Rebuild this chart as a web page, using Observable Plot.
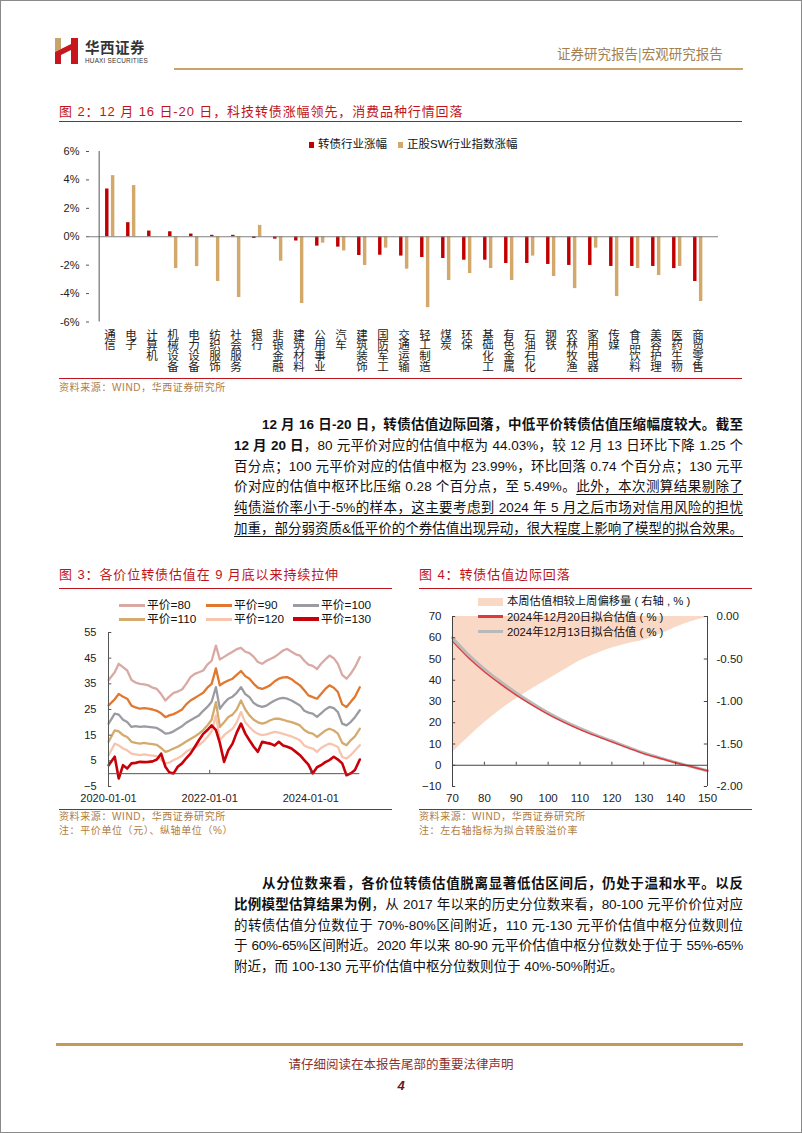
<!DOCTYPE html>
<html><head><meta charset="utf-8">
<script src="https://cdn.jsdelivr.net/npm/d3@7"></script>
<script src="https://cdn.jsdelivr.net/npm/@observablehq/plot@0.6"></script>
<style>
body{margin:0;background:#fff;}
#page{position:relative;width:800px;height:1131px;overflow:hidden;background:#fff;border:1px solid #8a8a8a;font-family:"Liberation Sans",Arial,"Noto Sans CJK SC",sans-serif;color:#111;}
.abs{position:absolute;}
.ftitle{position:absolute;font-size:13px;color:#c0141c;font-family:"Liberation Sans","Noto Sans CJK SC",sans-serif;letter-spacing:0.9px;white-space:nowrap;line-height:16px;}
.rline{position:absolute;height:1px;background:#c0141c;}
.src{position:absolute;font-size:10px;color:#b07c45;white-space:nowrap;letter-spacing:0.6px;line-height:12px;}
.para{position:absolute;left:233px;width:509px;font-size:13.5px;}
.para div{text-align:justify;text-align-last:justify;height:20.8px;line-height:20.8px;}
.para div.last{text-align:left;text-align-last:left;}
.u{text-decoration:underline;text-underline-offset:3px;}
.leg{position:absolute;font-size:11.5px;white-space:nowrap;line-height:14px;color:#111;}
.sw{position:absolute;}
</style>
</head><body>
<div id="page">
  <!-- header -->
  <svg class="abs" style="left:54px;top:37px" width="24" height="26" viewBox="0 0 24 26">
    <polygon points="0,0 6,0 6,11 0,14" fill="#c9a46a"/>
    <polygon points="0,14 6,11 6,26 0,26" fill="#c8161e"/>
    <polygon points="16,0 23,0 23,26 16,26" fill="#c8161e"/>
    <polygon points="6,11 16,6 16,12 6,17" fill="#c8161e"/>
  </svg>
  <div class="abs" style="left:84px;top:37px;font-size:14.5px;font-weight:700;color:#333;font-family:'Noto Sans CJK SC',sans-serif;letter-spacing:0.5px;line-height:18px;">华西证券</div>
  <div class="abs" style="left:84px;top:56px;font-size:6.4px;color:#333;letter-spacing:0.2px;line-height:8px;">HUAXI SECURITIES</div>
  <div class="abs" style="left:556px;top:44px;font-size:13.5px;color:#a5804f;font-family:'Noto Sans CJK SC',sans-serif;white-space:nowrap;line-height:16px;">证券研究报告|宏观研究报告</div>
  <div class="abs" style="left:173px;top:67px;width:569px;height:2px;background:#c9a46a;"></div>

  <!-- figure 2 -->
  <div class="ftitle" style="left:58px;top:103px;">图 2：12 月 16 日-20 日，科技转债涨幅领先，消费品种行情回落</div>
  <div class="rline" style="left:58px;top:120px;width:683px;"></div>
  <div id="fig2" class="abs" style="left:55px;top:130px;"></div>
  <div class="leg" style="left:308px;top:136px;"><span style="display:inline-block;width:5px;height:6px;background:#c00000;margin-right:4px;"></span>转债行业涨幅</div>
  <div class="leg" style="left:397px;top:136px;"><span style="display:inline-block;width:5px;height:6px;background:#d3a96b;margin-right:4px;"></span>正股SW行业指数涨幅</div>
  <div class="rline" style="left:58px;top:377px;width:683px;"></div>
  <div class="src" style="left:58px;top:381px;">资料来源：WIND，华西证券研究所</div>

  <!-- paragraph 1 -->
  <div class="para" style="top:414px;">
    <div style="padding-left:28px;"><b>12 月 16 日-20 日，转债估值边际回落，中低平价转债估值压缩幅度较大。截至</b></div>
    <div><b>12 月 20 日</b>，80 元平价对应的估值中枢为 44.03%，较 12 月 13 日环比下降 1.25 个</div>
    <div>百分点；100 元平价对应的估值中枢为 23.99%，环比回落 0.74 个百分点；130 元平</div>
    <div>价对应的估值中枢环比压缩 0.28 个百分点，至 5.49%。<span class="u">此外，本次测算结果剔除了</span></div>
    <div><span class="u">纯债溢价率小于-5%的样本，这主要考虑到 2024 年 5 月之后市场对信用风险的担忧</span></div>
    <div><span class="u">加重，部分弱资质&amp;低平价的个券估值出现异动，很大程度上影响了模型的拟合效果。</span></div>
  </div>

  <!-- figure 3 -->
  <div class="ftitle" style="left:58px;top:566px;">图 3：各价位转债估值在 9 月底以来持续拉伸</div>
  <div class="rline" style="left:58px;top:587px;width:333px;"></div>
  <div id="fig3" class="abs" style="left:55px;top:625px;"></div>
  <div id="leg3"></div>
  <div class="rline" style="left:58px;top:808px;width:333px;"></div>
  <div class="src" style="left:58px;top:810px;">资料来源：WIND，华西证券研究所</div>
  <div class="src" style="left:58px;top:824px;">注：平价单位（元）、纵轴单位（%）</div>

  <!-- figure 4 -->
  <div class="ftitle" style="left:418px;top:566px;">图 4：转债估值边际回落</div>
  <div class="rline" style="left:418px;top:587px;width:333px;"></div>
  <div id="fig4" class="abs" style="left:400px;top:590px;"></div>
  <div class="sw" style="left:477px;top:597px;width:25px;height:8px;background:#f9d8c5;"></div>
  <div class="leg" style="left:506px;top:593px;font-size:11.3px;">本周估值相较上周偏移量 ( 右轴 , % )</div>
  <div class="sw" style="left:477px;top:614px;width:25px;height:3px;background:#e0393c;"></div>
  <div class="leg" style="left:506px;top:609px;font-size:11.3px;">2024年12月20日拟合估值 ( % )</div>
  <div class="sw" style="left:477px;top:629px;width:25px;height:3px;background:#b9b9b9;"></div>
  <div class="leg" style="left:506px;top:624px;font-size:11.3px;">2024年12月13日拟合估值 ( % )</div>
  <div class="rline" style="left:418px;top:808px;width:333px;"></div>
  <div class="src" style="left:418px;top:810px;">资料来源：WIND，华西证券研究所</div>
  <div class="src" style="left:418px;top:824px;">注：左右轴指标为拟合转股溢价率</div>

  <!-- paragraph 2 -->
  <div class="para" style="top:873px;">
    <div style="padding-left:28px;"><b>从分位数来看，各价位转债估值脱离显著低估区间后，仍处于温和水平。以反</b></div>
    <div style="letter-spacing:-0.1px;"><b>比例模型估算结果为例</b>，从 2017 年以来的历史分位数来看，80-100 元平价价位对应</div>
    <div>的转债估值分位数位于 70%-80%区间附近，110 元-130 元平价估值中枢分位数则位</div>
    <div style="letter-spacing:-0.3px;">于 60%-65%区间附近。2020 年以来 80-90 元平价估值中枢分位数处于位于 55%-65%</div>
    <div class="last">附近，而 100-130 元平价估值中枢分位数则位于 40%-50%附近。</div>
  </div>

  <!-- footer -->
  <div class="abs" style="left:55px;top:1042px;width:687px;height:3px;background:#c49a5c;"></div>
  <div class="abs" style="left:0;width:800px;top:1055px;text-align:center;font-size:12.5px;color:#8b2f2f;font-family:'Noto Sans CJK SC',sans-serif;line-height:16px;">请仔细阅读在本报告尾部的重要法律声明</div>
  <div class="abs" style="left:0;width:800px;top:1077px;text-align:center;font-size:13px;font-weight:700;font-style:italic;color:#6b1616;line-height:16px;">4</div>
</div>

<script>
const FONT = '"Liberation Sans", Arial, "Noto Sans CJK SC", sans-serif';

// ---------- Figure 2 data ----------
const industries = ["通信","电子","计算机","机械设备","电力设备","纺织服饰","社会服务","银行","非银金融","建筑材料","公用事业","汽车","建筑装饰","国防军工","交通运输","轻工制造","煤炭","环保","基础化工","有色金属","石油石化","钢铁","农林牧渔","家用电器","传媒","食品饮料","美容护理","医药生物","商贸零售"];
const cbChange = [3.36,0.99,0.40,0.35,0.19,0.10,0.10,-0.12,-0.17,-0.30,-0.66,-0.73,-1.32,-1.30,-1.36,-1.46,-1.53,-1.65,-1.65,-1.88,-1.88,-1.95,-2.02,-2.02,-2.09,-2.09,-2.09,-2.24,-3.15];
const stockChange = [4.30,3.60,0.02,-2.24,-2.10,-3.15,-4.28,0.80,-1.72,-4.70,-0.45,-1.00,-2.02,-0.80,-2.28,-4.99,-3.08,-2.59,-2.24,-3.08,-1.36,-2.80,-3.65,-0.80,-4.21,-2.24,-2.73,-2.09,-4.56];
const pctTicks = [-6,-4,-2,0,2,4,6];

// ---------- Figure 3 data ----------
const dates3 = [
"2020-01-02","2020-02-15","2020-03-15","2020-04-15","2020-05-15","2020-06-15","2020-07-15","2020-08-15","2020-09-15","2020-10-15","2020-11-15","2020-12-15",
"2021-01-15","2021-02-15","2021-03-15","2021-04-15","2021-05-15","2021-06-15","2021-07-15","2021-08-15","2021-09-15","2021-10-15","2021-11-15","2021-12-15",
"2022-01-15","2022-02-15","2022-03-15","2022-04-15","2022-05-15","2022-06-15","2022-07-15","2022-08-15","2022-09-15","2022-10-15","2022-11-15","2022-12-15",
"2023-01-15","2023-02-15","2023-03-15","2023-04-15","2023-05-15","2023-06-15","2023-07-15","2023-08-15","2023-09-15","2023-10-15","2023-11-15","2023-12-15",
"2024-01-15","2024-02-15","2024-03-15","2024-04-15","2024-05-15","2024-06-15","2024-07-15","2024-08-15","2024-09-15","2024-10-15","2024-11-15","2024-12-20"];
const parity80 = [36.5,39.5,42.8,41.5,40.2,36.5,35.5,35,34.8,34.4,33.5,33, 31,28.5,30,31.5,32,32.8,35,37.6,38.9,39.5,40.2,42.5, 44,49.9,44.5,45.5,46.5,47.5,48.5,49,47.5,47,45.5,43.5, 42.8,44,44.7,45.5,46.7,48,48.6,47.5,46.5,46,44,42.5, 42,40.8,42.8,44.5,46,45,42.8,38.5,37,38.9,41.5,45.4];
const parity90 = [26.6,29,31.1,30,29.2,26.5,25.8,25.3,25.5,25.3,25,24.5, 23.5,22,22.7,23.2,24,25,27,28.5,29.5,30.5,31.5,33.5, 35,41,34.4,35.5,36.3,37,38.5,40,38,37,35,33.5, 33,33.7,34.5,36,37,37.5,37.6,36.8,35.5,34.4,32.5,30.5, 29.8,29.2,31,33,34.4,33.5,31.8,27,26,27.9,30,33.7];
const parity100 = [19.5,23.4,23,21,20.1,18.2,18.5,18.2,18.4,18.2,18,17.8, 16.8,15.6,15.8,16.5,17.5,18.5,19.8,20.8,21.8,22.7,24.5,26, 28,33.7,25.3,27.5,29.2,30,31.5,33.7,31,29.8,27.5,26.5, 26,26.5,27.5,28.5,29.2,29.5,29.2,28.5,27.5,26.6,24.5,23.8, 23.4,22.1,23.5,25,26,25.5,24,19.5,18.8,20.1,22,24.7];
const parity110 = [12.5,16.9,16.5,15,14.3,12.4,12,11.7,12,11.7,11.5,11.2, 10,8.5,9,9.8,10.5,11.5,12.5,13.5,14.5,15.6,17,18.8, 21,27.9,18.2,20,22.1,23,25,28.5,25,22.7,21,20, 19.5,20,20.8,21.4,21.4,21,20.5,20.1,19.5,18.8,17,16, 15.6,14.3,15.5,16.8,17.5,16.8,15.6,12,11.1,13,14.5,17.5];
const parity120 = [7.2,11.7,11,9.8,9.1,7.8,7.5,7.2,7.5,7.2,7,6.8, 5.5,4,4.3,5.3,6,7,8.5,9.5,10.2,11.1,12.5,14.3, 16.5,22.7,13,15,16.3,17.5,20,24,20,18.2,16.5,15.5, 15,15.3,15.8,16.3,16,15.5,15,14.5,13.8,13,11,10.2, 9.8,8.5,10,11,11.7,11.2,10.4,6.5,5.9,7.2,9,11.1];
const parity130 = [3.3,6.6,-1.9,3.3,2,4,4.2,4.6,4.5,4.6,4.8,5.5, 7.8,2.7,0.5,0.1,2.7,4,6,7.8,10.4,13,15.5,17, 18.8,17,12,4.6,9.1,11.7,16,19.5,15.6,13,10.5,8.5, 12.4,12,11.7,11,12.4,11,10.5,9.8,8.5,7.2,5.3,3.5, 0.1,2.5,3.3,4.5,5.3,6.6,5.5,4,-0.6,0.1,1.4,5.5];
const seriesNames3 = ["平价=80","平价=90","平价=100","平价=110","平价=120","平价=130"];
const seriesColors3 = ["#d8aaa3","#e2782f","#9a9ca2","#d4ab6c","#f7c4ae","#c8000a"];
const yTicks3 = [-5,5,15,25,35,45,55];
const xTicks3 = ["2020-01-01","2022-01-01","2024-01-01"];

// ---------- Figure 4 data ----------
const parity4 = [70,75,80,85,90,95,100,105,110,115,120,125,130,135,140,145,150];
const fit1220 = [58.3,50.6,44.03,38.3,33.0,28.3,23.99,20.2,16.8,13.8,11.0,8.2,5.49,3.3,1.2,-0.7,-2.6];
const fit1213 = [59.9,52.0,45.28,39.4,34.0,29.2,24.73,20.8,17.3,14.2,11.4,8.5,5.77,3.5,1.3,-0.6,-2.6];
const weeklyShift = [-1.60,-1.42,-1.25,-1.10,-0.97,-0.85,-0.74,-0.63,-0.52,-0.44,-0.37,-0.32,-0.28,-0.21,-0.13,-0.06,-0.01];
const leftTicks4 = [-10,0,10,20,30,40,50,60,70];
const rightTicks4 = [0,-0.5,-1,-1.5,-2];
const xTicks4 = [70,80,90,100,110,120,130,140,150];

// ---------- Figure 2 ----------
{
  const W = 680, H = 250, mL = 33, mR = 18, mT = 20, mB = 59.5;
  const bw = (W - mL - mR) / industries.length;
  const rows = industries.map((c, i) => ({c, cb: cbChange[i], st: stockChange[i]}));
  const chart = Plot.plot({
    width: W, height: H, marginLeft: mL, marginRight: mR, marginTop: mT, marginBottom: mB,
    style: {fontFamily: FONT, fontSize: "11px", color: "#222", background: "transparent", overflow: "visible"},
    x: {type: "band", domain: industries, padding: 0, axis: null},
    y: {domain: [-6, 6]},
    marks: [
      Plot.barY(rows, {x: "c", y: "cb", fill: "#c00000", insetLeft: bw*0.28, insetRight: bw*0.53}),
      Plot.barY(rows, {x: "c", y: "st", fill: "#d3a96b", insetLeft: bw*0.55, insetRight: bw*0.26}),
      Plot.ruleY([0], {stroke: "#808080", strokeWidth: 1}),
      Plot.ruleX([industries[0]], {x: d => d, dx: -bw/2, y1: -6, y2: 6, stroke: "#555"}),
      Plot.axisY({ticks: pctTicks, tickFormat: d => d + "%", tickSize: 3, tickPadding: 7, label: null, fontSize: 11, stroke: "#555"}),
      Plot.text(industries, {x: d => d, text: d => [...d].join("\n"), frameAnchor: "bottom", lineAnchor: "top", dy: 9, fontSize: 11.5, lineHeight: 0.93, fill: "#222"})
    ]
  });
  document.getElementById("fig2").appendChild(chart);
}

// ---------- Figure 3 ----------
{
  const W = 335, H = 185;
  const x0 = new Date("2020-01-01"), x1 = new Date("2024-12-20");
  const all = [parity80, parity90, parity100, parity110, parity120, parity130];
  const lineMarks = all.map((vals, k) => Plot.lineY(vals.map((v, i) => ({d: new Date(dates3[i]), v})), {
    x: "d", y: "v", stroke: seriesColors3[k], strokeWidth: k === 5 ? 2.6 : 2.3, strokeLinejoin: "round"
  }));
  const chart = Plot.plot({
    width: W, height: H, marginLeft: 52, marginRight: 31.7, marginTop: 6, marginBottom: 25,
    style: {fontFamily: FONT, fontSize: "11px", color: "#222", background: "transparent", overflow: "visible"},
    x: {type: "utc", domain: [x0, x1]},
    y: {domain: [-5, 55]},
    marks: [
      ...lineMarks,
      Plot.ruleY([0], {stroke: "#555", strokeWidth: 1}),
      Plot.ruleX([x0], {y1: -5, y2: 55, stroke: "#555"}),
      Plot.ruleY(yTicks3, {y: d => d, x1: x0, x2: new Date("2020-01-25"), stroke: "#555"}),
      Plot.ruleX(xTicks3.slice(1).map(s => new Date(s)), {x: d => d, y1: 0, y2: 1.3, stroke: "#555"}),
      Plot.axisY({ticks: yTicks3, tickSize: 0, tickPadding: 12, label: null, fontSize: 11}),
      Plot.axisX({ticks: xTicks3.map(s => new Date(s)), tickFormat: d3.utcFormat("%Y-%m-%d"), tickSize: 0, tickPadding: 8, label: null, fontSize: 11})
    ]
  });
  document.getElementById("fig3").appendChild(chart);

  // legend
  const leg = document.getElementById("leg3");
  const colX = [118, 205, 292], rowY = [604, 618];
  seriesNames3.forEach((n, k) => {
    const cx = colX[k % 3], cy = rowY[Math.floor(k / 3)];
    const sw = document.createElement("div");
    sw.className = "sw";
    sw.style.cssText = `left:${cx}px;top:${cy - (k === 5 ? 2 : 1.5)}px;width:26px;height:${k === 5 ? 4 : 3}px;background:${seriesColors3[k]};`;
    leg.appendChild(sw);
    const t = document.createElement("div");
    t.className = "leg";
    t.style.cssText = `left:${cx + 28}px;top:${cy - 7}px;font-size:11.8px;`;
    t.textContent = n;
    leg.appendChild(t);
  });
}

// ---------- Figure 4 ----------
{
  const W = 360, H = 220;
  const toLeft = r => 70 + r * 40;   // right-axis units -> left-axis units
  const rows = parity4.map((p, i) => ({p, a: fit1220[i], b: fit1213[i], s: weeklyShift[i]}));
  const chart = Plot.plot({
    width: W, height: H, marginLeft: 51, marginRight: 54, marginTop: 25, marginBottom: 25,
    style: {fontFamily: FONT, fontSize: "11px", color: "#222", background: "transparent", overflow: "visible"},
    x: {domain: [70, 150]},
    y: {domain: [-10, 70]},
    marks: [
      Plot.areaY(rows, {x: "p", y1: toLeft(0), y2: d => toLeft(d.s), fill: "#f9d8c5", curve: "monotone-x"}),
      Plot.lineY(rows, {x: "p", y: "b", stroke: "#b9b9b9", strokeWidth: 3, curve: "monotone-x"}),
      Plot.lineY(rows, {x: "p", y: "a", stroke: "#e0393c", strokeWidth: 1.4, curve: "monotone-x"}),
      Plot.ruleY([0], {stroke: "#444", strokeWidth: 1}),
      Plot.ruleX([70, 150], {y1: -10, y2: 70, stroke: "#444"}),
      Plot.ruleY(leftTicks4, {y: d => d, x1: 70, x2: 71, stroke: "#444"}),
      Plot.ruleY(rightTicks4.map(toLeft), {y: d => d, x1: 149, x2: 150, stroke: "#444"}),
      Plot.ruleX(xTicks4, {x: d => d, y1: 0, y2: 1.4, stroke: "#444"}),
      Plot.axisY({anchor: "left", ticks: leftTicks4, tickSize: 0, tickPadding: 11, label: null, fontSize: 11.5}),
      Plot.axisY({anchor: "right", ticks: rightTicks4.map(toLeft), tickFormat: d => ((d - 70) / 40).toFixed(2), tickSize: 0, tickPadding: 9, label: null, fontSize: 11.5}),
      Plot.axisX({ticks: xTicks4, tickSize: 0, tickPadding: 7, label: null, fontSize: 11.5})
    ]
  });
  document.getElementById("fig4").appendChild(chart);
}
</script>
</body></html>
